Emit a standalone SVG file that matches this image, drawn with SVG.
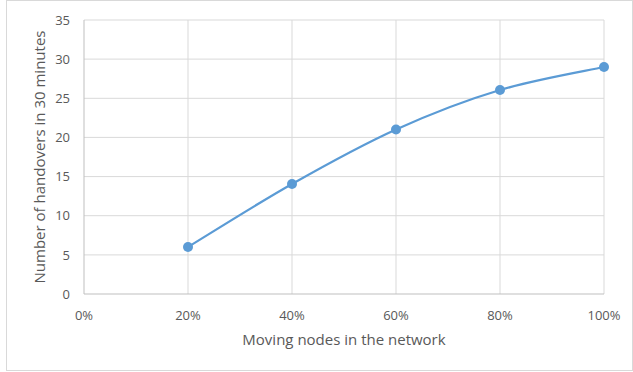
<svg xmlns="http://www.w3.org/2000/svg" width="633" height="372" viewBox="0 0 633 372">
<style>
.grid{stroke:#d9d9d9;stroke-width:1;fill:none}
.axis{stroke:#bfbfbf;stroke-width:1;fill:none}
.tick{font-family:"Open Sans","Liberation Sans",Arial,sans-serif;font-size:13px;fill:#595959}
.title{font-family:"Open Sans","Liberation Sans",Arial,sans-serif;font-size:15px;fill:#595959}
.series{stroke:#5b9bd5;stroke-width:2.25;fill:none;stroke-linecap:round}
.pt{fill:#5b9bd5}
</style>
<rect x="0" y="0" width="633" height="372" fill="#ffffff"/>
<rect x="6.5" y="0.5" width="626" height="370" fill="#ffffff" stroke="#d9d9d9" stroke-width="1"/>
<g id="gridlines">
<path class="grid" d="M84 254.9H604M84 215.7H604M84 176.6H604M84 137.4H604M84 98.3H604M84 59.1H604M84 20H604"/>
<path class="grid" d="M188 20V294M292 20V294M396 20V294M500 20V294M604 20V294"/>
</g>
<g id="axes">
<path class="axis" d="M84 20V294H604"/>
</g>
<g id="y-ticks" class="tick" text-anchor="end">
<text x="70" y="298.5">0</text>
<text x="70" y="259.5">5</text>
<text x="70" y="220">10</text>
<text x="70" y="181">15</text>
<text x="70" y="142">20</text>
<text x="70" y="102.5">25</text>
<text x="70" y="63.5">30</text>
<text x="70" y="24.5">35</text>
</g>
<g id="x-ticks" class="tick" text-anchor="middle">
<text x="84" y="319.5">0%</text>
<text x="188" y="319.5">20%</text>
<text x="292" y="319.5">40%</text>
<text x="396" y="319.5">60%</text>
<text x="500" y="319.5">80%</text>
<text x="604" y="319.5">100%</text>
</g>
<g id="axis-titles" class="title" text-anchor="middle">
<text x="344" y="345">Moving nodes in the network</text>
<text transform="translate(45 157) rotate(-90)">Number of handovers in 30 minutes</text>
</g>
<g id="connectors">
<path class="series" d="M188 247C205.3 236.5 257.3 203.6 292 184C326.7 164.4 361.3 145.2 396 129.5C430.7 113.8 465.3 100.4 500 90C534.7 79.6 586.7 70.8 604 67"/>
</g>
<g id="p20"><circle class="pt" cx="188" cy="247" r="5"/></g>
<g id="p40"><circle class="pt" cx="292" cy="184" r="5"/></g>
<g id="p60"><circle class="pt" cx="396" cy="129.5" r="5"/></g>
<g id="p80"><circle class="pt" cx="500" cy="90" r="5"/></g>
<g id="p100"><circle class="pt" cx="604" cy="67" r="5"/></g>
</svg>
